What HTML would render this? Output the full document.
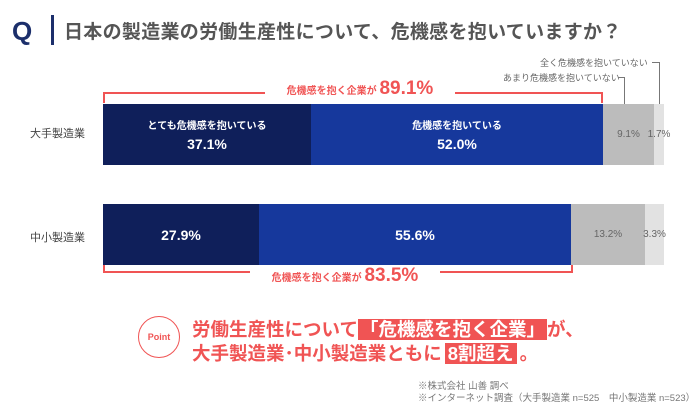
<html><head><style>
body{margin:0;width:700px;height:413px;background:#fff;font-family:"Liberation Sans","Noto Sans CJK JP",sans-serif;position:relative;overflow:hidden}
.a{position:absolute}
.seg{position:absolute;display:flex;flex-direction:column;align-items:center;justify-content:center;color:#fff;font-weight:bold}
</style></head><body>
<div class="a" style="left:12px;top:16px;font-size:26px;font-weight:bold;color:#1c2f6b">Q</div>
<div class="a" style="left:51px;top:15px;width:3px;height:30px;background:#1c2f6b"></div>
<div class="a" style="left:64px;top:17px;font-size:19px;font-weight:bold;color:#555;letter-spacing:0.3px">日本の製造業の労働生産性について、危機感を抱いていますか？</div>

<div class="a" style="left:540px;top:56px;font-size:9px;color:#666">全く危機感を抱いていない</div>
<div class="a" style="left:652px;top:62px;width:8px;height:1px;background:#777"></div>
<div class="a" style="left:659px;top:62px;width:1px;height:42px;background:#777"></div>
<div class="a" style="left:503px;top:71px;font-size:9px;color:#666">あまり危機感を抱いていない</div>
<div class="a" style="left:618px;top:77px;width:7px;height:1px;background:#777"></div>
<div class="a" style="left:624px;top:77px;width:1px;height:27px;background:#777"></div>

<div class="a" style="left:103px;top:92px;width:500px;height:2px;background:#f05454"></div>
<div class="a" style="left:103px;top:92px;width:2px;height:11px;background:#f05454"></div>
<div class="a" style="left:601px;top:92px;width:2px;height:11px;background:#f05454"></div>
<div class="a" style="left:265px;top:78px;width:190px;height:22px;background:#fff;text-align:center;color:#f05454;font-weight:bold;font-size:10px;line-height:22px">危機感を抱く企業が <span style="font-size:19px">89.1%</span></div>

<div class="a" style="left:30px;top:125px;font-size:11px;color:#444">大手製造業</div>
<div class="seg" style="left:103px;top:104px;width:208px;height:61px;background:#0f1f5a"><span style="font-size:10px">とても危機感を抱いている</span><span style="font-size:14px;margin-top:4px">37.1%</span></div>
<div class="seg" style="left:311px;top:104px;width:292px;height:61px;background:#16389c"><span style="font-size:10px">危機感を抱いている</span><span style="font-size:14px;margin-top:4px">52.0%</span></div>
<div class="seg" style="left:603px;top:104px;width:51px;height:61px;background:#bcbcbc;color:#666;font-weight:normal;font-size:10px">9.1%</div>
<div class="seg" style="left:654px;top:104px;width:10px;height:61px;background:#e2e2e2;color:#666;font-weight:normal;font-size:10px">1.7%</div>

<div class="a" style="left:30px;top:229px;font-size:11px;color:#444">中小製造業</div>
<div class="seg" style="left:103px;top:204px;width:156px;height:61px;background:#0f1f5a;font-size:14px">27.9%</div>
<div class="seg" style="left:259px;top:204px;width:312px;height:61px;background:#16389c;font-size:14px">55.6%</div>
<div class="seg" style="left:571px;top:204px;width:74px;height:61px;background:#bcbcbc;color:#666;font-weight:normal;font-size:10px">13.2%</div>
<div class="seg" style="left:645px;top:204px;width:19px;height:61px;background:#e2e2e2;color:#666;font-weight:normal;font-size:10px">3.3%</div>

<div class="a" style="left:103px;top:271px;width:470px;height:2px;background:#f05454"></div>
<div class="a" style="left:103px;top:265px;width:2px;height:8px;background:#f05454"></div>
<div class="a" style="left:571px;top:265px;width:2px;height:8px;background:#f05454"></div>
<div class="a" style="left:250px;top:265px;width:190px;height:22px;background:#fff;text-align:center;color:#f05454;font-weight:bold;font-size:10px;line-height:22px">危機感を抱く企業が <span style="font-size:19px">83.5%</span></div>

<div class="a" style="left:138px;top:316px;width:40px;height:40px;border:1.5px solid #f05454;border-radius:50%;text-align:center;line-height:40px;color:#f05454;font-size:9px;font-weight:bold">Point</div>
<div class="a" style="left:192px;top:318px;font-size:18.5px;font-weight:bold;color:#f05454;line-height:24px">労働生産性について<span style="background:#f05454;color:#fff;padding:0 2px">「危機感を抱く企業」</span>が、<br>大手製造業･中小製造業ともに<span style="background:#f05454;color:#fff;padding:0 3px;margin:0 3px">8割超え</span>。</div>

<div class="a" style="left:418px;top:381px;font-size:9.5px;color:#777;line-height:12px;white-space:nowrap">※株式会社 山善 調べ<br>※インターネット調査（大手製造業 n=525　中小製造業 n=523）</div>
</body></html>
